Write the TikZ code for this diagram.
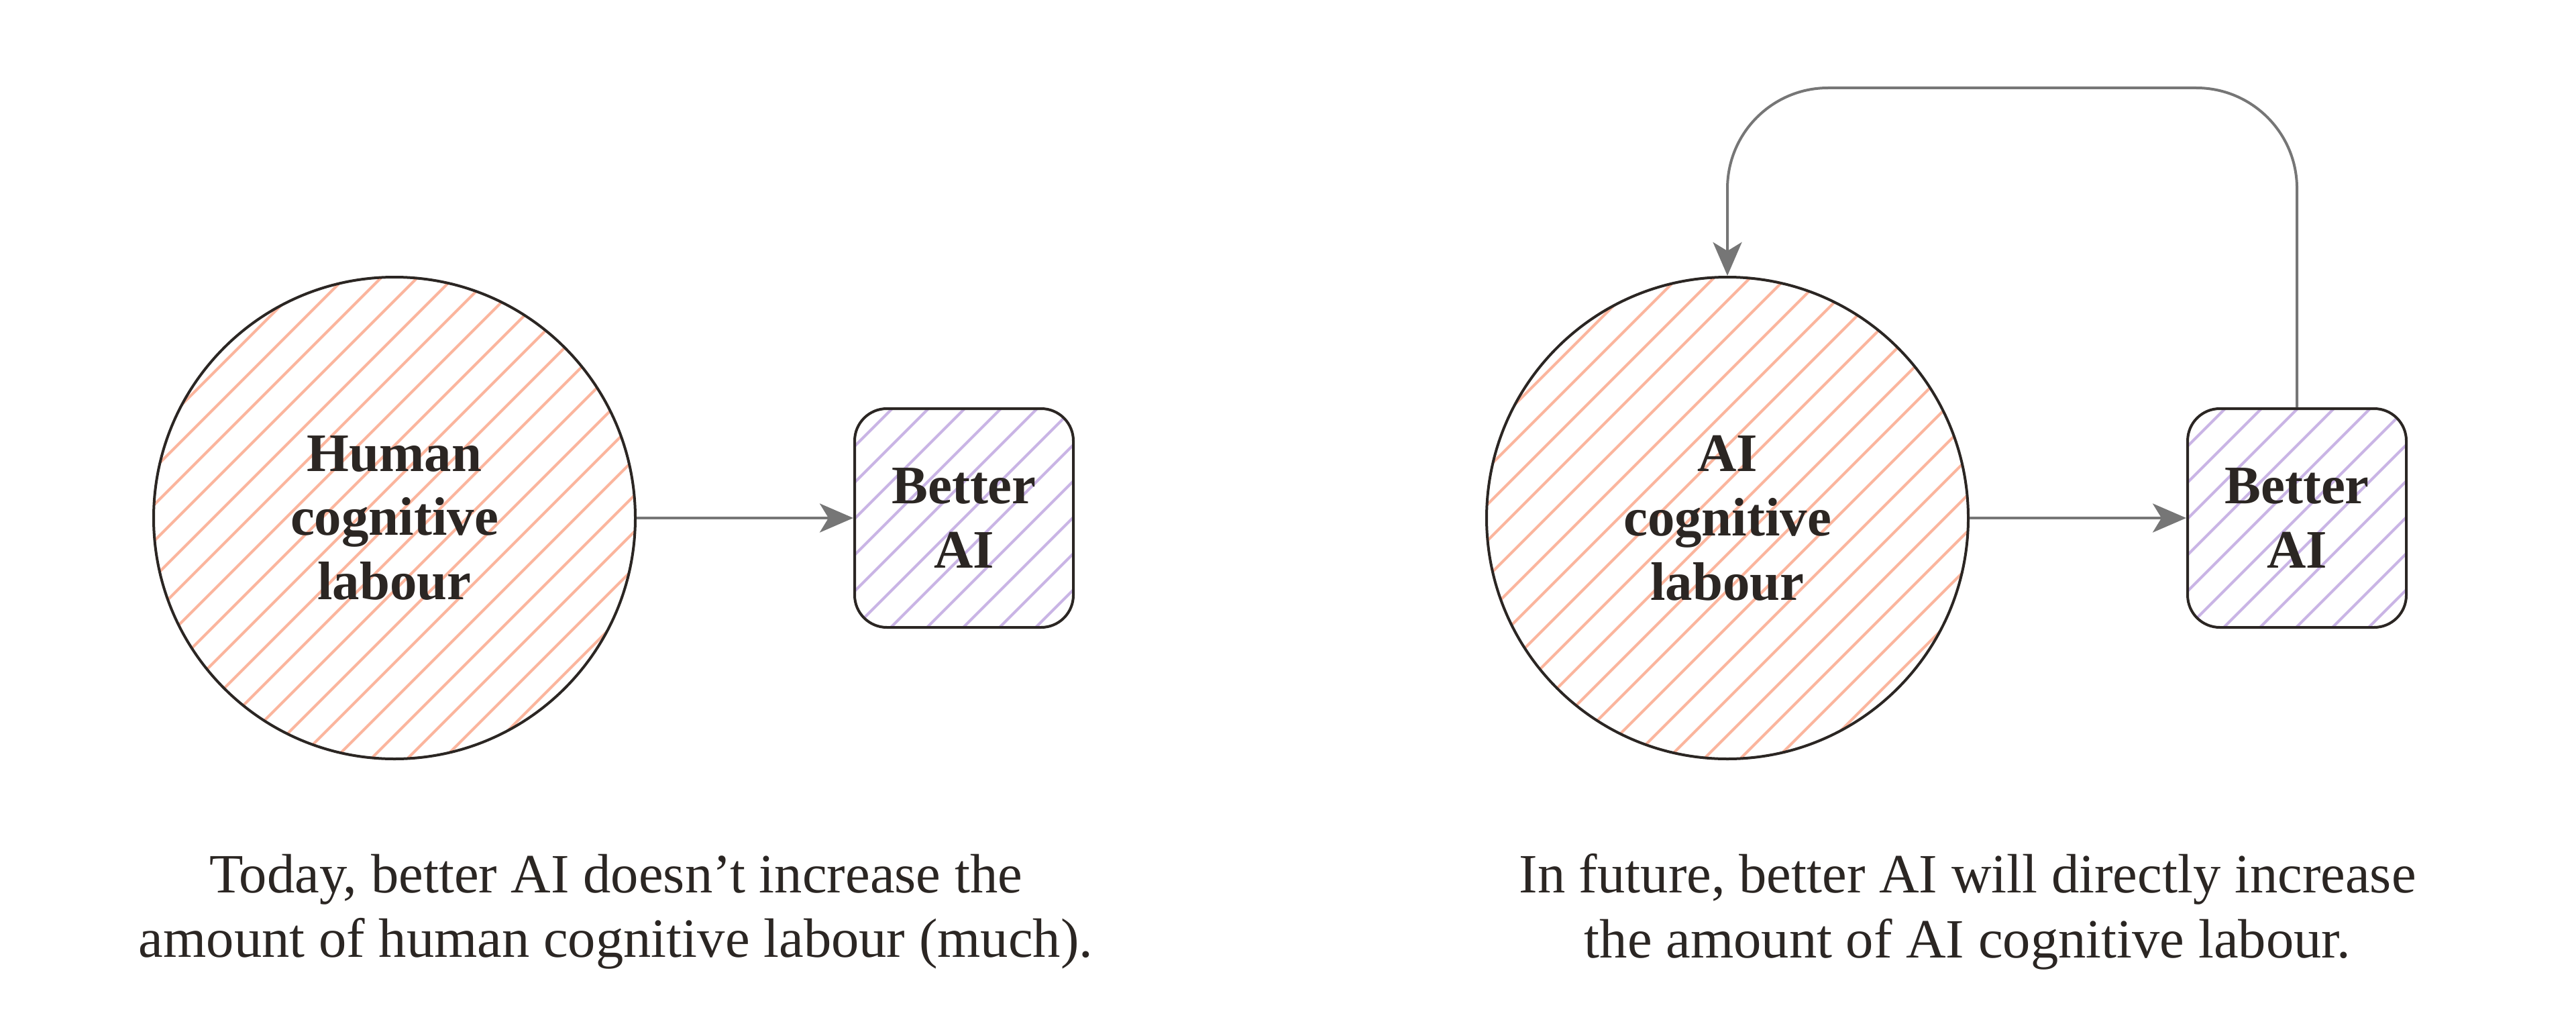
\documentclass[tikz,border=0pt]{standalone}
\usepackage{fontspec}
\setmainfont{Liberation Serif}
\usetikzlibrary{arrows.meta,positioning}

\definecolor{ink}{HTML}{2B2623}
\definecolor{wire}{HTML}{767676}
\definecolor{salmon}{HTML}{FBB59D}
\definecolor{lilac}{HTML}{C9B4E5}

\begin{document}
\begin{tikzpicture}[node distance=3.23cm,
      >={Stealth[length=5mm,width=4.3mm,inset=1.3mm]},
      every node/.append style={align=center, text=ink, font=\fontsize{23.5}{27.5}\selectfont},
      hatch/.style={path picture={
          \foreach \k in {-14,...,14}
            \draw[#1, line width=0.4mm]
              ([xshift=\k*5.4mm]path picture bounding box.center) ++(-5,-5) -- ++(10,10);}},
      labour/.style={circle, draw=ink, line width=0.4mm, minimum size=7.18cm,
          inner sep=0pt, font=\fontsize{23}{27.3}\selectfont\bfseries, hatch=salmon},
      better/.style={rectangle, rounded corners=4.8mm, draw=ink, line width=0.4mm,
          minimum size=3.26cm, inner sep=0pt, font=\fontsize{23}{27.3}\selectfont\bfseries, hatch=lilac},
      caption/.style={anchor=north, inner sep=0pt},
      link/.style={draw=wire, line width=0.4mm, ->}]

     \useasboundingbox (0,0) rectangle (38.4,15.43);

     % today
     \node [labour] (HL) at (5.88,7.71) {Human\\cognitive\\labour};
     \node [better, right=of HL] (BL)    {Better\\AI};
     \draw [link] (HL) -- (BL);
     \node [caption] (today) at (9.18,2.71)
           {Today, better AI doesn’t increase the\\amount of human cognitive labour (much).};

     % future
     \node [labour] (AL) at (25.75,7.71) {AI\\cognitive\\labour};
     \node [better, right=of AL] (BR)    {Better\\AI};
     \coordinate (loop) at (0,14.12);
     \draw [link] (AL) -- (BR);
     \draw [link, rounded corners=1.5cm] (BR.north) |- (AL.north |- loop) -- (AL.north);
     \node [caption] (future) at (29.33,2.71)
           {In future, better AI will directly increase\\the amount of AI cognitive labour.};
  \end{tikzpicture}
\end{document}
